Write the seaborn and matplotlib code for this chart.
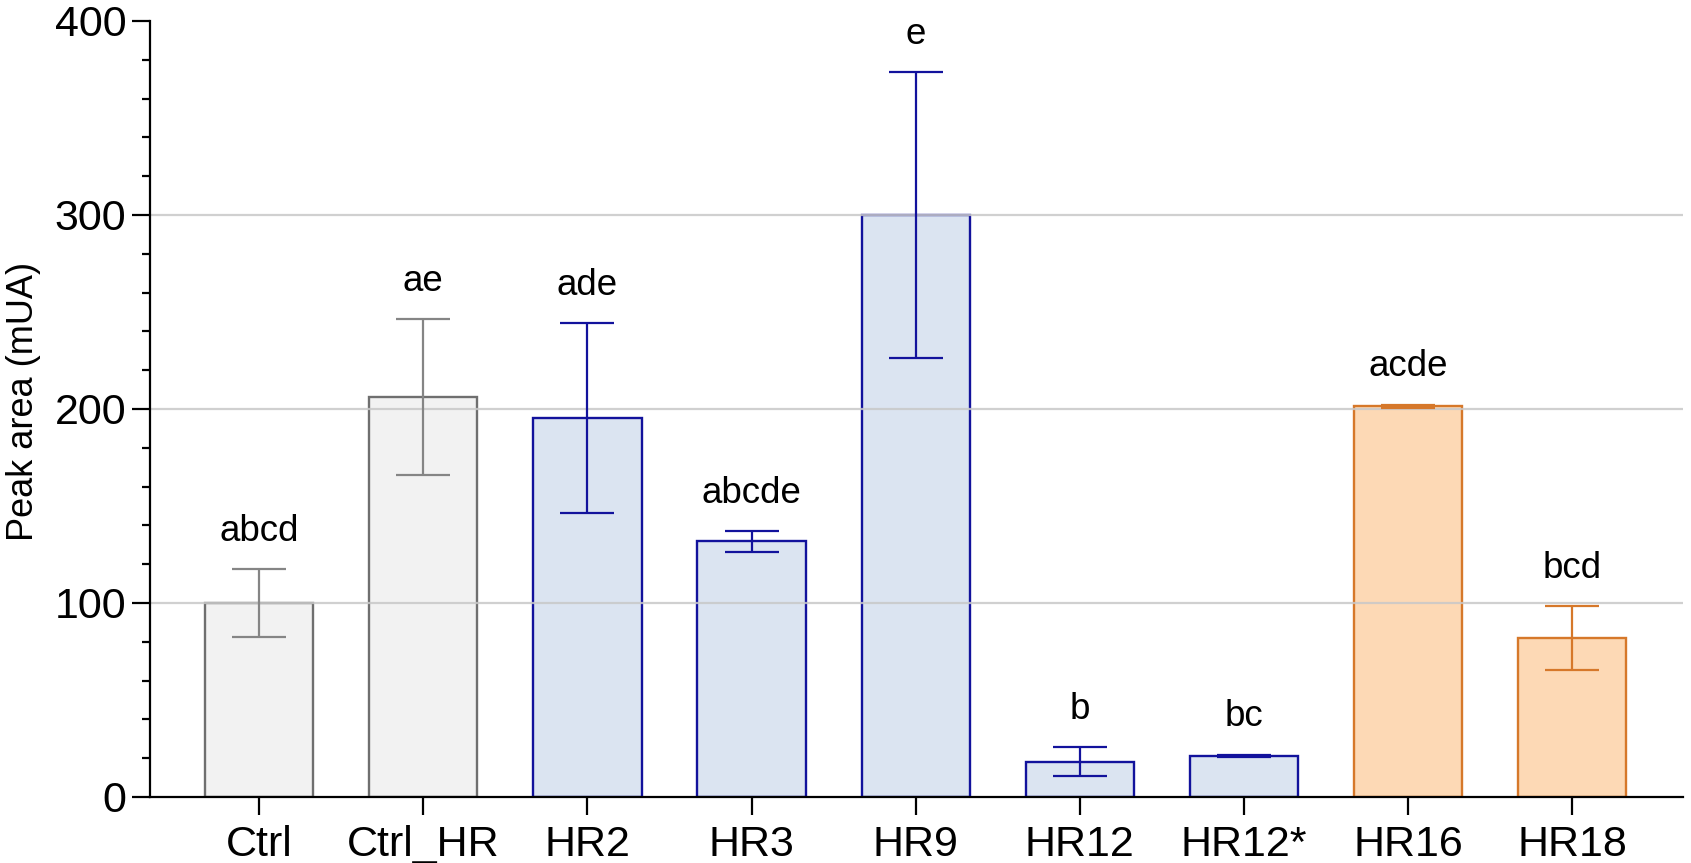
import pandas as pd
import matplotlib.pyplot as plt
import seaborn as sns
from matplotlib.ticker import MultipleLocator

# values
groups = ["Ctrl", "Ctrl_HR", "HR2", "HR3", "HR9", "HR12", "HR12*", "HR16", "HR18"]
means = [100.0, 206.0, 195.2, 131.8, 300.0, 18.2, 21.3, 201.3, 82.0]
sds = [17.3, 40.2, 49.0, 5.3, 73.7, 7.4, 0.5, 0.9, 16.3]
letters = ["abcd", "ae", "ade", "abcde", "e", "b", "bc", "acde", "bcd"]
kind = ["ctrl", "ctrl", "blue", "blue", "blue", "blue", "blue", "orange", "orange"]

df = pd.DataFrame({"Group": groups, "Mean": means, "SD": sds, "Kind": kind})

face = {"ctrl": "#f2f2f2", "blue": "#dbe4f1", "orange": "#fdd9b5"}
edge = {"ctrl": "#6f6f6f", "blue": "#12129c", "orange": "#d6782a"}
errc = {"ctrl": "#858585", "blue": "#12129c", "orange": "#d6782a"}

sns.set_theme(style="white")
plt.rcParams["font.family"] = ["Liberation Sans", "DejaVu Sans"]

fig = plt.figure(figsize=(16.91, 8.63), dpi=100)
ax = fig.add_axes([0.0887, 0.0765, 0.9066, 0.8992])

palette = {g: face[k] for g, k in zip(groups, kind)}
sns.barplot(data=df, x="Group", y="Mean", hue="Group", palette=palette,
            width=0.66, errorbar=None, legend=False, ax=ax, saturation=1)

for i, cont in enumerate(ax.containers):
    for bar in cont:
        bar.set_edgecolor(edge[kind[i]])
        bar.set_linewidth(1.7)

for i, (m, s, k) in enumerate(zip(means, sds, kind)):
    ax.errorbar(i, m, yerr=s, fmt="none", ecolor=errc[k], elinewidth=1.6,
                capsize=19.5, capthick=1.6, zorder=4)
    ax.text(i, m + s + 19.5, letters[i], ha="center", va="center",
            fontsize=26.5, color="black", zorder=5)

ax.set_ylim(0, 400)
ax.set_xlim(-0.665, 8.675)
ax.yaxis.set_major_locator(MultipleLocator(100))
ax.yaxis.set_minor_locator(MultipleLocator(20))

ax.set_axisbelow(False)
ax.yaxis.grid(True, color="#c8c8c8", linewidth=1.6, alpha=0.85, zorder=2.5)
for gl, t in zip(ax.get_ygridlines(), ax.get_yticks()):
    if t == 0 or t == 400:
        gl.set_visible(False)

sns.despine(ax=ax)
for side in ["left", "bottom"]:
    ax.spines[side].set_color("black")
    ax.spines[side].set_linewidth(1.6)
    ax.spines[side].set_zorder(6)

ax.tick_params(axis="both", which="major", length=13, width=1.6, color="black",
               labelsize=31, labelcolor="black", left=True, bottom=True)
ax.tick_params(axis="y", which="minor", length=6, width=1.6, color="black", left=True)
ax.tick_params(axis="y", which="major", pad=4)
ax.tick_params(axis="x", which="major", pad=7)

ax.set_xlabel("")
ax.set_ylabel("Peak area (mUA)", fontsize=26, color="black", labelpad=0)
ax.yaxis.set_label_coords(-0.071, 0.51)

fig.savefig("out.png", dpi=100)
